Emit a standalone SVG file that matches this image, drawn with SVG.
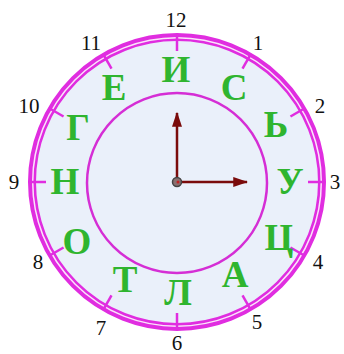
<svg xmlns="http://www.w3.org/2000/svg" width="344" height="354" viewBox="0 0 344 354">
<defs>
<style>
.num{font-family:"Liberation Serif","Times New Roman",serif;font-size:21px;fill:#111;text-anchor:middle}
.let{font-family:"Liberation Serif","Times New Roman",serif;font-size:37px;font-weight:bold;fill:#2fb52f;text-anchor:middle}
.tick{stroke:#e02de0;stroke-width:2.5}
.hand{stroke:#7a0b0b;stroke-width:2.5;fill:none}
</style>
<marker id="ah" viewBox="0 0 12 8" refX="11" refY="4" markerWidth="6" markerHeight="4" markerUnits="strokeWidth" orient="auto">
<path d="M0,0 L12,4 L0,8 Z" fill="#7a0b0b"/>
</marker>
</defs>
<rect width="344" height="354" fill="#ffffff"/>
<g id="face">
<circle cx="177" cy="182" r="145" fill="#eaf0fa" stroke="#e02de0" stroke-width="8"/>
<circle cx="177" cy="182" r="144.3" fill="none" stroke="#fbe3fb" stroke-width="1.5"/>
<circle cx="177" cy="183" r="90" fill="none" stroke="#d52ed5" stroke-width="2.5"/>
</g>
<g id="ticks">
<g transform="translate(177,182)">
<line class="tick" x1="0" y1="-131" x2="0" y2="-147"/>
<line class="tick" x1="0" y1="-131" x2="0" y2="-147" transform="rotate(30)"/>
<line class="tick" x1="0" y1="-131" x2="0" y2="-147" transform="rotate(60)"/>
<line class="tick" x1="0" y1="-131" x2="0" y2="-147" transform="rotate(90)"/>
<line class="tick" x1="0" y1="-131" x2="0" y2="-147" transform="rotate(120)"/>
<line class="tick" x1="0" y1="-131" x2="0" y2="-147" transform="rotate(150)"/>
<line class="tick" x1="0" y1="-131" x2="0" y2="-147" transform="rotate(180)"/>
<line class="tick" x1="0" y1="-131" x2="0" y2="-147" transform="rotate(210)"/>
<line class="tick" x1="0" y1="-131" x2="0" y2="-147" transform="rotate(240)"/>
<line class="tick" x1="0" y1="-131" x2="0" y2="-147" transform="rotate(270)"/>
<line class="tick" x1="0" y1="-131" x2="0" y2="-147" transform="rotate(300)"/>
<line class="tick" x1="0" y1="-131" x2="0" y2="-147" transform="rotate(330)"/>
</g>
</g>
<g id="numbers">
<text class="num" x="176" y="27">12</text>
<text class="num" x="258" y="50">1</text>
<text class="num" x="320" y="113">2</text>
<text class="num" x="335" y="189">3</text>
<text class="num" x="318" y="269">4</text>
<text class="num" x="257" y="329">5</text>
<text class="num" x="177" y="350">6</text>
<text class="num" x="101" y="335">7</text>
<text class="num" x="38" y="269">8</text>
<text class="num" x="14" y="189">9</text>
<text class="num" x="29" y="113">10</text>
<text class="num" x="91" y="50">11</text>
</g>
<g id="letters">
<text class="let" x="176" y="82">И</text>
<text class="let" x="234" y="100">С</text>
<text class="let" x="276" y="137">Ь</text>
<text class="let" x="290" y="194">У</text>
<text class="let" x="279" y="250">Ц</text>
<text class="let" x="235" y="287">А</text>
<text class="let" x="178" y="305">Л</text>
<text class="let" x="125" y="292">Т</text>
<text class="let" x="77" y="254">О</text>
<text class="let" x="65" y="194">Н</text>
<text class="let" x="78" y="140">Г</text>
<text class="let" x="114" y="100">Е</text>
</g>
<g id="connectors">
<line class="hand" x1="177" y1="182" x2="177" y2="113" marker-end="url(#ah)"/>
<line class="hand" x1="177" y1="182" x2="247" y2="182" marker-end="url(#ah)"/>
</g>
<g id="center">
<circle cx="177" cy="182" r="4.5" fill="#8a7070" stroke="#444" stroke-width="1.5"/>
<circle cx="178" cy="182" r="1.5" fill="#c02020"/>
</g>
</svg>
